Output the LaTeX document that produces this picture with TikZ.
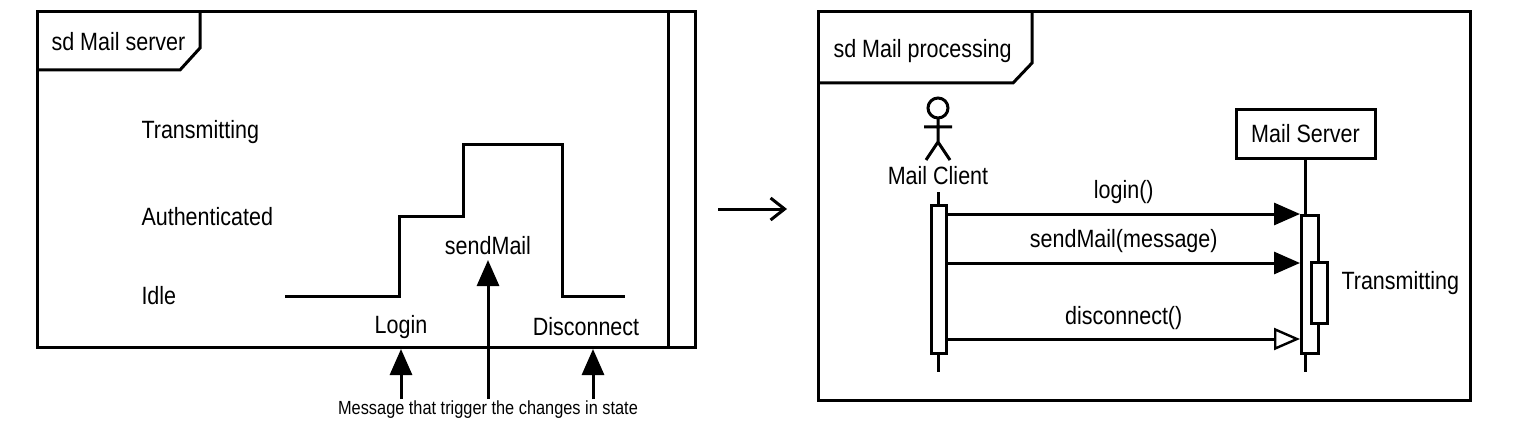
\documentclass[tikz,border=0pt]{standalone}
\usepackage{fontspec}
\setmainfont[FakeStretch=0.86]{Liberation Sans}
\usetikzlibrary{arrows.meta}
\begin{document}
\begin{tikzpicture}[x=1pt,y=-1pt,line width=3pt,
  lbl/.style={font=\fontsize{25}{28}\selectfont,inner sep=0pt},
  up/.style={-{Triangle[length=26pt,width=22pt]}},
  sync/.style={-{Triangle[length=26pt,width=22pt]}},
  ret/.style={-{Triangle[open,length=26pt,width=22pt,line width=2.4pt]}},
  act/.style={draw,fill=white,line width=3pt}]
\useasboundingbox (0,0) rectangle (1514,441);
% left frame
\draw (37,12) rectangle (695,347);
\draw (668,12) -- (668,347);
\draw (37,70) -- (180,70) -- (200,48) -- (200,12);
\node[lbl,anchor=west] (t1) at (50,42) {sd Mail server};
\node[lbl,anchor=west] (s1) at (140,132) {Transmitting};
\node[lbl,anchor=west] (s2) at (140,217) {Authenticated};
\node[lbl,anchor=west] (s3) at (140,296) {Idle};
\draw (285,296) -- (399,296) -- (399,216) -- (463,216) -- (463,144) -- (562,144) -- (562,296) -- (625,296);
\node[lbl] (sm) at (488,246) {sendMail};
\node[lbl] (lg) at (401,327) {Login};
\node[lbl] (dc) at (586,327) {Disconnect};
\node[font=\fontsize{19}{21}\selectfont,inner sep=1pt] (note) at (488,410) {Message that trigger the changes in state};
\coordinate (a1) at (401,399); \coordinate (a2) at (488,399); \coordinate (a3) at (593,399);
\draw[up] (a1) -- (401,349);
\draw[up] (a2) -- (488,260);
\draw[up] (a3) -- (593,349);
% middle arrow
\coordinate (m1) at (718,209); \coordinate (m2) at (787,209);
\draw[line width=3pt,-{Straight Barb[length=14pt,width=22pt]}] (m1) -- (m2);
% right frame
\draw (818,12) rectangle (1470,400);
\draw (818,83) -- (1013,83) -- (1032,63) -- (1032,12);
\node[lbl,anchor=west] (t2) at (832,51) {sd Mail processing};
% actor
\draw (938,108) circle (10);
\draw (938,118) -- (938,142) (924,127) -- (952,127) (926,160) -- (938,142) -- (950,160);
\node[lbl] (mc) at (938,176) {Mail Client};
\draw (938,192) -- (938,372);
\node[act,minimum width=15pt,minimum height=148pt,inner sep=0pt] (ca) at (938.5,279) {};
\node[draw,lbl,minimum width=139pt,minimum height=48pt] (ms) at (1305.5,134) {Mail Server};
\draw (ms.south) -- (1305.5,372);
\node[act,minimum width=17pt,minimum height=138pt,inner sep=0pt] (sa) at (1310,284) {};
\node[act,minimum width=16pt,minimum height=61pt,inner sep=0pt] (sb) at (1319,292.5) {};
\node[lbl,anchor=west] (tr) at (1340,283) {Transmitting};
\draw[sync] (ca.east |- 0,214) -- (sa.west |- 0,214) node[lbl,midway,above=9pt] {login()};
\draw[sync] (ca.east |- 0,263) -- (sa.west |- 0,263) node[lbl,midway,above=9pt] {sendMail(message)};
\draw[ret] (ca.east |- 0,339) -- (sa.west |- 0,339) node[lbl,midway,above=8pt] {disconnect()};
\end{tikzpicture}
\end{document}
